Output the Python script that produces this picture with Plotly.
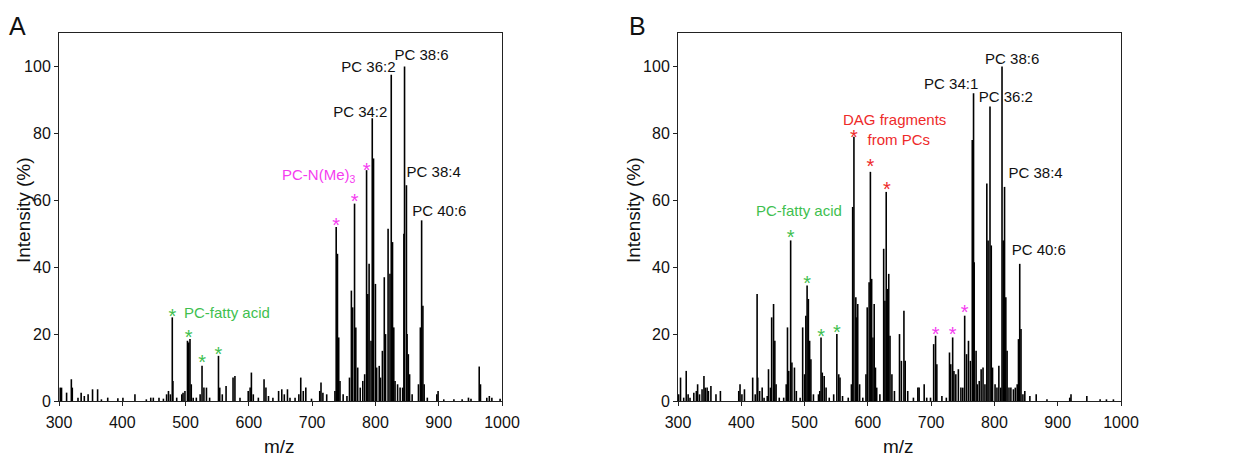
import plotly.graph_objects as go
from plotly.subplots import make_subplots

# Panel A spectrum (m/z, relative intensity %)
a_mz = [302, 304, 312, 319.5, 321, 330, 335, 340, 346, 353, 361, 367, 377, 393, 401,
        420, 438, 445, 449, 458, 465, 470, 473, 476, 479, 480, 486, 494, 496, 499,
        503, 505, 507, 509, 512, 517, 523, 526, 529, 533, 538, 552, 554, 558, 564,
        575, 578, 586, 599, 602, 604, 607, 615, 624, 627, 631, 638, 647, 652, 656,
        661, 665, 673, 679, 682, 686, 690, 699, 712, 714, 717, 723, 736, 738, 740,
        742, 744, 749, 755, 759, 762, 764, 767, 769, 772, 776, 780, 783, 786, 788,
        790, 793, 795, 797, 800, 802, 806, 808, 811, 814, 816, 820, 823, 825, 827,
        829, 831, 835, 839, 843, 845, 846, 849, 850, 852, 854, 858, 868, 871, 873,
        875, 877, 882, 897, 899, 908, 924, 937, 947, 951, 964, 966, 976, 980, 984, 997]
a_int = [4, 4, 2.5, 6.5, 4, 1, 2.5, 1.5, 2, 3.5, 3.5, 0.5, 1, 0.8, 1,
         2, 0.5, 1, 1, 1, 0.7, 2, 3, 2, 25, 6, 1, 2, 2.5, 3,
         18, 17.5, 18.5, 5, 1, 1, 2, 10.5, 4, 4, 1, 13.5, 4, 2, 4.5,
         7, 7.5, 1, 3, 4, 8.5, 2, 1, 6.5, 4, 1.5, 1, 3, 3.5, 2,
         3.5, 1, 1, 2, 7, 3, 4, 0.7, 3, 5.5, 2.5, 2, 3, 52, 44,
         19, 6, 2, 1.5, 7, 33, 28, 59, 22, 10, 4, 6, 8, 69, 32,
         41, 18, 84.5, 72.5, 35, 10, 10.5, 7, 15, 37, 20, 51.5, 38, 97.5, 47.5,
         22, 6, 5, 4, 4, 50, 100, 64.5, 20, 14, 8, 2, 5, 22, 54,
         28.5, 5, 1, 2, 3, 0.5, 0.5, 0.5, 1, 0.7, 10.3, 5, 1, 1.5, 1, 0.7]

# Panel B spectrum
b_mz = [301, 304, 309, 313, 316, 319, 325, 329, 331, 334, 338, 341, 343, 346, 348,
        352, 360, 367, 396, 398, 401, 405, 418, 422, 425, 426, 429, 433, 436, 441,
        443, 446, 448, 451, 453, 455, 460, 467, 471, 473, 475, 478, 480, 484, 487,
        493, 497, 500, 502, 504, 506, 508, 510, 514, 522, 524, 526, 528, 531, 534,
        539, 546, 551, 554, 556, 560, 569, 574, 576, 578, 581, 582, 584, 587, 592,
        597, 599, 602, 604, 606, 608, 610, 612, 614, 619, 625, 627, 629, 631, 633,
        635, 638, 642, 650, 653, 657, 659, 663, 672, 679, 681, 689, 693, 699, 704,
        707, 709, 717, 724, 729, 731, 734, 736, 739, 743, 747, 750, 753, 756, 759,
        762, 765, 767, 768, 771, 773, 776, 779, 782, 785, 788, 790, 793, 795, 797,
        801, 804, 807, 810, 812, 814, 816, 818, 820, 823, 826, 830, 833, 836, 838,
        840, 842, 845, 848, 856, 866, 883, 919, 921, 946, 967, 977, 988]
b_int = [2, 7, 1, 9, 2, 1, 2.5, 3, 5, 2, 3.5, 7.5, 4, 4, 3,
         4.5, 2, 3, 3, 5, 2, 3.5, 7, 2, 32, 7, 3, 4, 1, 1.5,
         9.5, 4, 25, 29, 18, 5, 1, 1, 5, 22, 9, 48, 11.5, 10, 3,
         1, 22, 8, 25.5, 34.5, 30.5, 18, 12.5, 2, 2, 3, 19, 8.5, 7.5, 4,
         1, 2, 20, 8, 7, 1.5, 1, 5, 58, 79, 31, 25, 29, 5, 1,
         8, 28, 35.5, 68.5, 36.5, 19, 29, 10, 4, 2, 45.5, 30, 62.5, 33.5, 38,
         19.5, 8, 3, 20, 12, 27, 12, 3, 1, 4, 4, 5, 1, 1, 17,
         19.5, 11, 1.5, 1, 14.5, 11, 19, 9, 8, 9.5, 4, 4, 25.5, 14, 18,
         12, 78, 92, 41.5, 15, 5, 6, 9.5, 10, 5, 65, 48, 88, 46.5, 10,
         5, 4, 10.5, 4, 100, 48, 64, 31, 15, 4, 4, 3.5, 4, 5, 18.5,
         41, 21.5, 2, 3, 1.5, 2, 0.5, 1, 2, 1.5, 0.5, 0.5, 0.5]

# peak labels
a_lab = ["PC 34:2", "PC 36:2", "PC 38:6", "PC 38:4", "PC 40:6"]
a_lab_mz = [776, 789, 873, 892, 901]
a_lab_y = [86, 99.5, 103, 68, 56.3]
b_lab = ["PC 34:1", "PC 36:2", "PC 38:6", "PC 38:4", "PC 40:6"]
b_lab_mz = [731.6, 818, 828, 865, 870]
b_lab_y = [94.4, 90.5, 102, 67.8, 44.7]

# asterisks (position, colour group)
a_green_mz = [479, 505, 526, 552]
a_green_y = [26.7, 20.2, 13, 15.3]
a_pink_mz = [738, 767, 786]
a_pink_y = [53.8, 61, 70.4]
b_green_mz = [478, 504, 526, 551]
b_green_y = [50.3, 36.6, 20.7, 21.7]
b_red_mz = [578, 604, 630]
b_red_y = [80, 71.3, 64.6]
b_pink_mz = [707, 734, 753]
b_pink_y = [21.2, 21.1, 27.7]

GREEN = "#3fbf4f"
PINK = "#f53cf0"
RED = "#ee2a2a"
FONT = "Arial, Liberation Sans, sans-serif"


def sticks(mz, inten):
    xs, ys = [], []
    for m, i in zip(mz, inten):
        xs += [m, m, None]
        ys += [0, i, None]
    return xs, ys


fig = make_subplots(rows=1, cols=2)

for col, (mz, it) in enumerate([(a_mz, a_int), (b_mz, b_int)], start=1):
    xs, ys = sticks(mz, it)
    fig.add_scatter(x=xs, y=ys, mode="lines", line=dict(color="black", width=1.6),
                    showlegend=False, hoverinfo="skip", row=1, col=col)

# "*" glyph sits high in its text box, nudge it down a bit
STAR_DROP = 1.8
stars = [(a_green_mz, a_green_y, GREEN, 1), (a_pink_mz, a_pink_y, PINK, 1),
         (b_green_mz, b_green_y, GREEN, 2), (b_red_mz, b_red_y, RED, 2),
         (b_pink_mz, b_pink_y, PINK, 2)]
for mz, yy, c, col in stars:
    fig.add_scatter(x=mz, y=[v - STAR_DROP for v in yy], mode="text", text=["*"] * len(mz),
                    textposition="middle center",
                    textfont=dict(color=c, size=20, family=FONT), showlegend=False,
                    hoverinfo="skip", row=1, col=col)

for lab, mz, yy, col in [(a_lab, a_lab_mz, a_lab_y, 1), (b_lab, b_lab_mz, b_lab_y, 2)]:
    fig.add_scatter(x=mz, y=yy, mode="text", text=lab, textposition="middle center",
                    textfont=dict(color="#111", size=15, family=FONT), showlegend=False,
                    hoverinfo="skip", row=1, col=col)

# group labels
grp = [("PC-fatty acid", 566, 26.5, "x", "y", GREEN),
       ("PC-N(Me)<sub>3</sub>", 711, 67.4, "x", "y", PINK),
       ("PC-fatty acid", 491.6, 56.8, "x2", "y2", GREEN),
       ("DAG fragments<br>  from PCs", 642, 81.2, "x2", "y2", RED)]
for txt, x, y, xr, yr, c in grp:
    fig.add_annotation(x=x, y=y, xref=xr, yref=yr, text=txt, showarrow=False,
                       xanchor="center", yanchor="middle", font=dict(color=c, size=15, family=FONT))

# page has an 8px body margin: figure is drawn 8px in, so map reference pixels accordingly
OFF = 8
W, H = 1238 - OFF, 457 - OFF


def px_x(p):
    return (p - OFF) / W


def px_y(p):
    return 1 - (p - OFF) / H


for txt, px, py, size, ang in [("A", 17, 26, 25, 0), ("B", 637, 26, 25, 0),
                               ("Intensity (%)", 23, 210, 19, -90), ("Intensity (%)", 633, 210, 19, -90),
                               ("m/z", 279, 446, 19, 0), ("m/z", 898, 446, 19, 0)]:
    fig.add_annotation(x=px_x(px), y=px_y(py), xref="paper", yref="paper", text=txt,
                       xanchor="center", yanchor="middle",
                       showarrow=False, textangle=ang, font=dict(color="#111", size=size, family=FONT))

ax = dict(showline=True, mirror=True, linecolor="#222", linewidth=1, showgrid=False, zeroline=False,
          automargin=False, ticks="outside", ticklen=4, tickcolor="#222",
          tickfont=dict(size=16, color="#111", family=FONT))
fig.update_xaxes(range=[300, 1000], dtick=100, ticklabelstandoff=3, **ax)
fig.update_yaxes(range=[0, 110], tickvals=[0, 20, 40, 60, 80, 100], **ax)
fig.update_layout(
    xaxis=dict(domain=[px_x(59), px_x(502)]),
    xaxis2=dict(domain=[px_x(678), px_x(1121)]),
    yaxis=dict(domain=[px_y(401), px_y(33)]),
    yaxis2=dict(domain=[px_y(401), px_y(33)]),
    width=W, height=H, margin=dict(l=0, r=0, t=0, b=0),
    plot_bgcolor="white", paper_bgcolor="white",
)

fig.write_html("out.html")
